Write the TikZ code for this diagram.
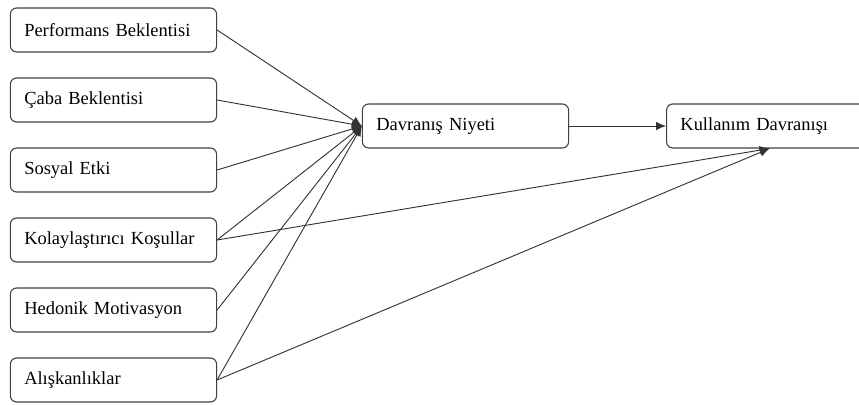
\documentclass[tikz,border=0pt]{standalone}
\usepackage{fontspec}
\setmainfont{Liberation Serif}
\usepackage{tikz}
\usetikzlibrary{positioning, arrows.meta}

\begin{document}
\begin{tikzpicture}[
      x=0.65pt, y=-0.65pt,
      node distance=16.2pt and 63pt,
      box/.style={draw=black!75, rounded corners=4pt, line width=0.7pt, align=left, text width=116pt, inner xsep=9pt, minimum height=28.6pt, font=\fontsize{12}{14}\selectfont},
      arr/.style={draw=black!80, line width=0.6pt, -{Latex[length=6.5pt, width=5.5pt]}}
    ]
    \useasboundingbox (0,0) rectangle (859,405);

    \node[box] at (113.5,30) (perf) {Performans Beklentisi};
    \node[box, below=of perf] (caba) {Çaba Beklentisi};
    \node[box, below=of caba] (sos) {Sosyal Etki};
    \node[box, below=of sos] (kol) {Kolaylaştırıcı Koşullar};
    \node[box, below=of kol] (hed) {Hedonik Motivasyon};
    \node[box, below=of hed] (alis) {Alışkanlıklar};

    \node[box] at (465.5,126) (niyet) {Davranış Niyeti};
    \node[box, right=of niyet] (kull) {Kullanım Davranışı};

    \draw[arr] (perf.east) -- (niyet.west);
    \draw[arr] (caba.east) -- (niyet.west);
    \draw[arr] (sos.east) -- (niyet.west);
    \draw[arr] (kol.east) -- (niyet.west);
    \draw[arr] (hed.east) -- (niyet.west);
    \draw[arr] (alis.east) -- (niyet.west);
    \draw[arr] (niyet) -- (kull);
    \draw[arr] (kol.east) -- (kull.south);
    \draw[arr] (alis.east) -- (kull.south);
  \end{tikzpicture}
\end{document}
